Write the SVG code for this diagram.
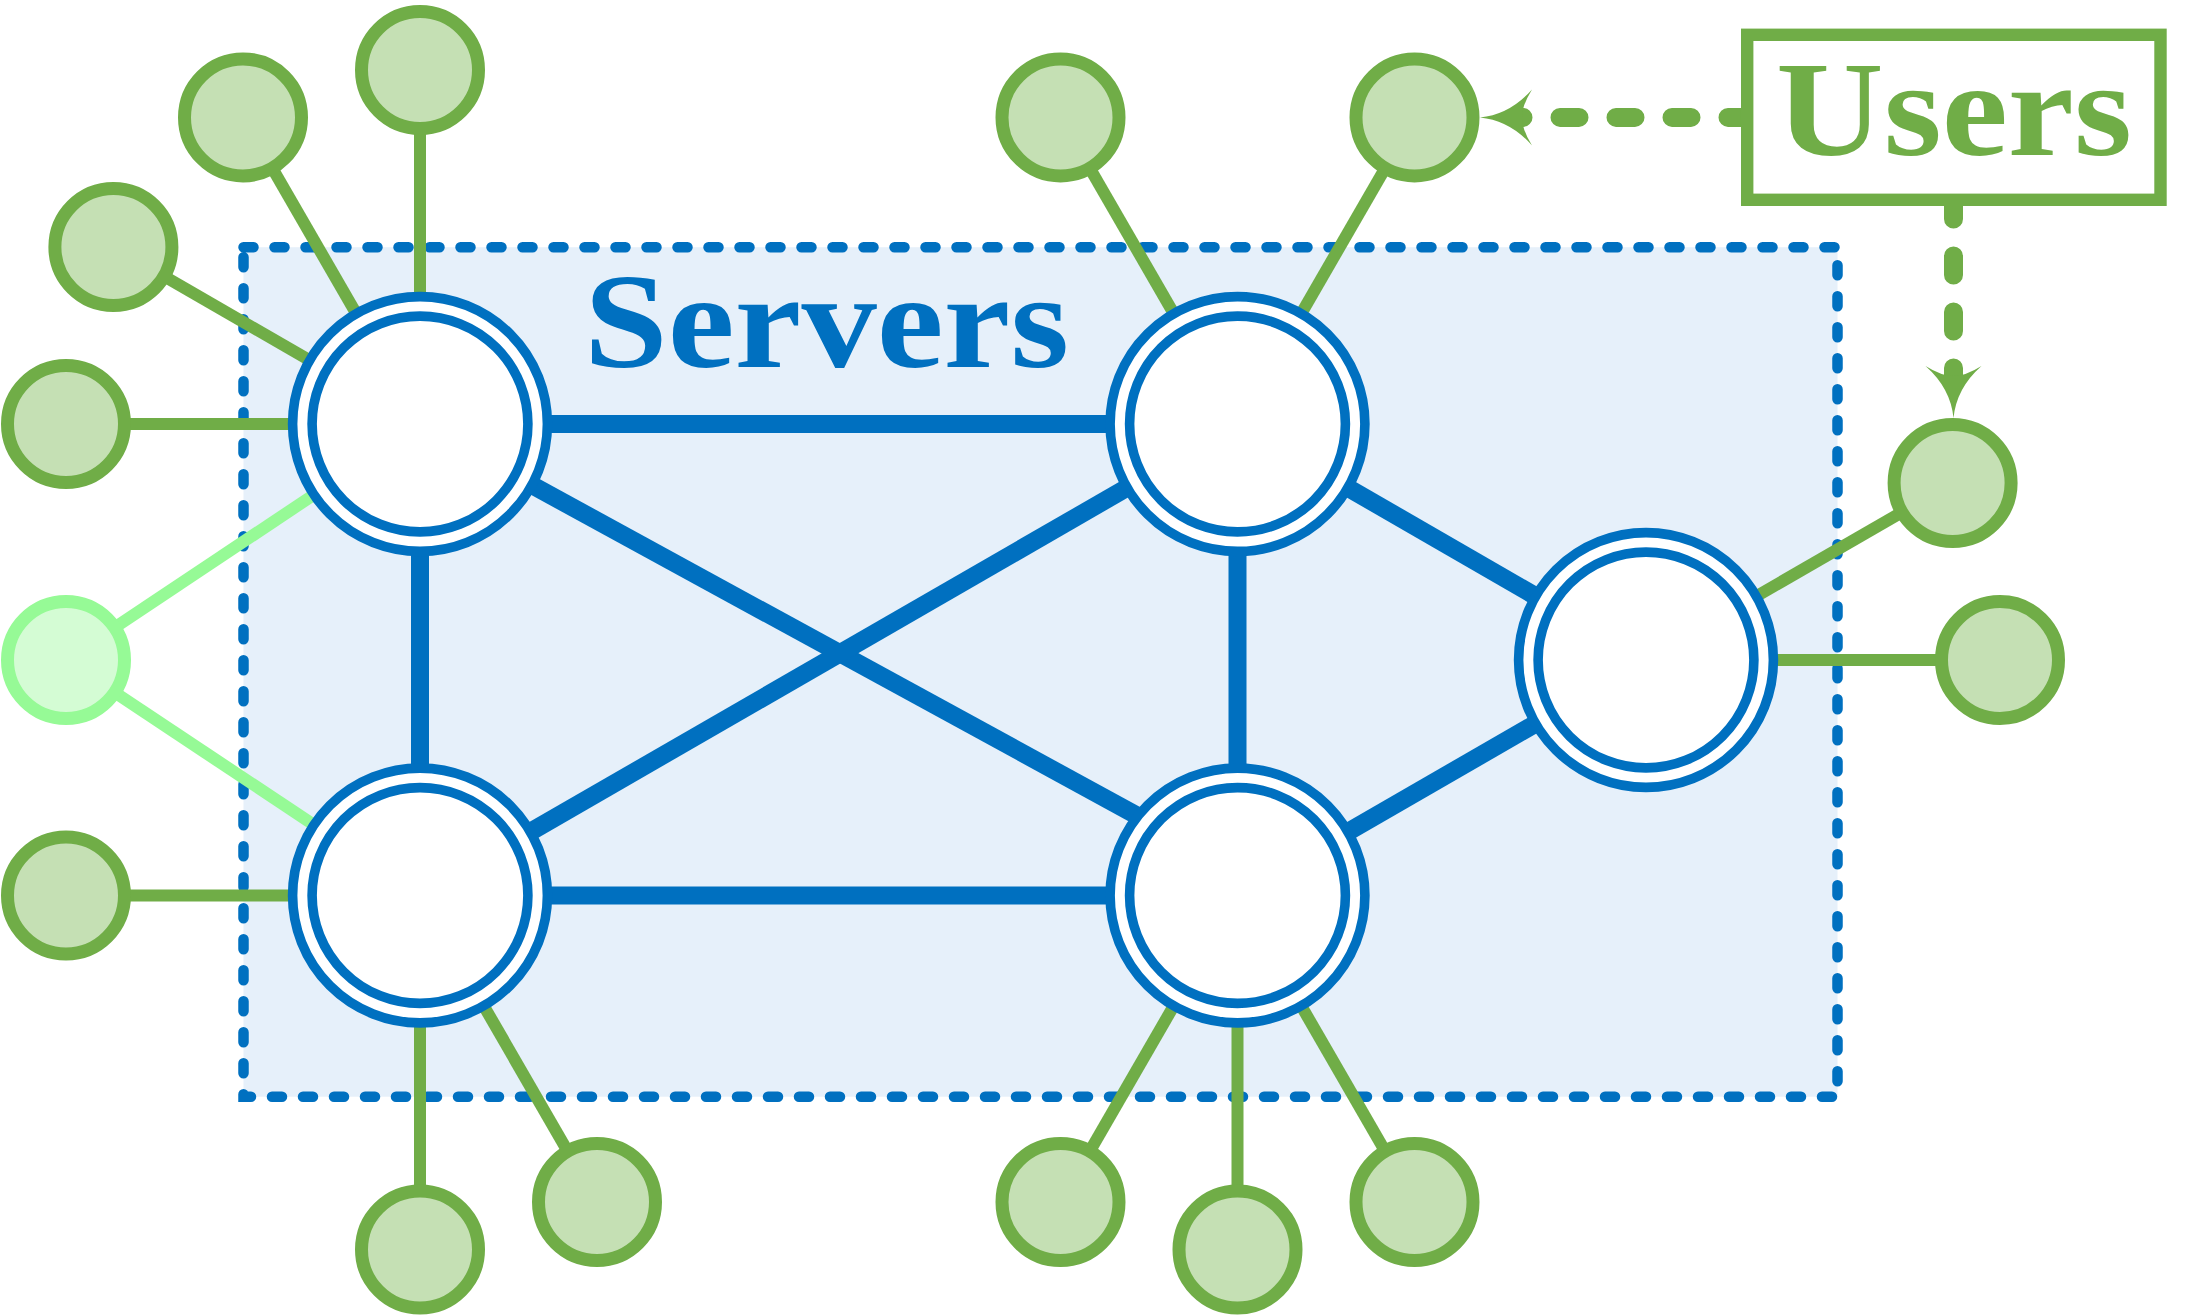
<svg xmlns="http://www.w3.org/2000/svg" width="2200" height="1316" viewBox="0 0 2200 1316">
<style>
.box{fill:#E6F0FA;stroke:#0070C0;stroke-width:10.5;stroke-dasharray:10 21;stroke-linecap:round}
.spoke{stroke:#70AD47;stroke-width:12;fill:none}
.spoke2{stroke:#96FA96;stroke-width:12;fill:none}
.edge{stroke:#0070C0;stroke-width:18;fill:none}
.ring{fill:#FFFFFF;stroke:#0070C0;stroke-width:9.6}
.user{fill:#C5E0B4;stroke:#70AD47;stroke-width:13}
.user2{fill:#D4FCD4;stroke:#96FA96;stroke-width:13}
.dash{stroke:#70AD47;stroke-width:19;stroke-dasharray:19 37;stroke-linecap:round;fill:none}
.lbl{font-family:"Liberation Serif","Times New Roman",serif;font-weight:bold;font-size:136px;text-anchor:middle}
</style>
<defs>
<marker id="arr" markerUnits="userSpaceOnUse" markerWidth="60" markerHeight="60" viewBox="0 -30 60 60" refX="10" refY="0" orient="auto" overflow="visible">
<path d="M52,0 Q22,-3 0,-28 Q10,-12 10,0 Q10,12 0,28 Q22,3 52,0 Z" fill="#70AD47"/>
</marker>
</defs>

<g id="servers-area">
<rect class="box" x="243.5" y="247.2" width="1594" height="849.5"/>
<text class="lbl" x="826.5" y="367" fill="#0070C0" textLength="485" lengthAdjust="spacingAndGlyphs">Servers</text>
</g>

<g id="connectors">
<line class="spoke" x1="420" y1="424" x2="420" y2="70"/>
<line class="spoke" x1="420" y1="424" x2="243" y2="117.4"/>
<line class="spoke" x1="420" y1="424" x2="113.4" y2="247"/>
<line class="spoke" x1="420" y1="424" x2="66" y2="424"/>
<line class="spoke2" x1="420" y1="424" x2="66" y2="660"/>
<line class="spoke2" x1="420" y1="895.5" x2="66" y2="660"/>
<line class="spoke" x1="420" y1="895.5" x2="66" y2="895.5"/>
<line class="spoke" x1="420" y1="895.5" x2="420" y2="1249.5"/>
<line class="spoke" x1="420" y1="895.5" x2="597" y2="1202"/>
<line class="spoke" x1="1237.5" y1="424" x2="1060.5" y2="117.4"/>
<line class="spoke" x1="1237.5" y1="424" x2="1414.5" y2="117.4"/>
<line class="spoke" x1="1237.5" y1="895.5" x2="1060.5" y2="1202"/>
<line class="spoke" x1="1237.5" y1="895.5" x2="1237.5" y2="1249.5"/>
<line class="spoke" x1="1237.5" y1="895.5" x2="1414.5" y2="1202"/>
<line class="spoke" x1="1646" y1="660" x2="1952.6" y2="483"/>
<line class="spoke" x1="1646" y1="660" x2="2000" y2="660"/>

<line class="edge" x1="420" y1="424" x2="1237.5" y2="424"/>
<line class="edge" x1="420" y1="895.5" x2="1237.5" y2="895.5"/>
<line class="edge" x1="420" y1="424" x2="420" y2="895.5"/>
<line class="edge" x1="1237.5" y1="424" x2="1237.5" y2="895.5"/>
<line class="edge" x1="420" y1="424" x2="1237.5" y2="870.5"/>
<line class="edge" x1="1237.5" y1="424" x2="420" y2="895.5"/>
<line class="edge" x1="1237.5" y1="424" x2="1646" y2="660"/>
<line class="edge" x1="1237.5" y1="895.5" x2="1646" y2="660"/>

<path class="dash" d="M1747,117.4 H1522" marker-end="url(#arr)"/>
<path class="dash" d="M1953.5,200 V376" marker-end="url(#arr)"/>
</g>

<g id="server1"><circle class="ring" cx="420" cy="424" r="127.4"/><circle class="ring" cx="420" cy="424" r="107.9"/></g>
<g id="server2"><circle class="ring" cx="1237.5" cy="424" r="127.4"/><circle class="ring" cx="1237.5" cy="424" r="107.9"/></g>
<g id="server3"><circle class="ring" cx="420" cy="895.5" r="127.4"/><circle class="ring" cx="420" cy="895.5" r="107.9"/></g>
<g id="server4"><circle class="ring" cx="1237.5" cy="895.5" r="127.4"/><circle class="ring" cx="1237.5" cy="895.5" r="107.9"/></g>
<g id="server5"><circle class="ring" cx="1646" cy="660" r="127.4"/><circle class="ring" cx="1646" cy="660" r="107.9"/></g>

<g id="user1"><circle class="user" cx="420" cy="70" r="58.5"/></g>
<g id="user2"><circle class="user" cx="243" cy="117.4" r="58.5"/></g>
<g id="user3"><circle class="user" cx="113.4" cy="247" r="58.5"/></g>
<g id="user4"><circle class="user" cx="66" cy="424" r="58.5"/></g>
<g id="user5"><circle class="user2" cx="66" cy="660" r="58.5"/></g>
<g id="user6"><circle class="user" cx="66" cy="895.5" r="58.5"/></g>
<g id="user7"><circle class="user" cx="420" cy="1249.5" r="58.5"/></g>
<g id="user8"><circle class="user" cx="597" cy="1202" r="58.5"/></g>
<g id="user9"><circle class="user" cx="1060.5" cy="117.4" r="58.5"/></g>
<g id="user10"><circle class="user" cx="1414.5" cy="117.4" r="58.5"/></g>
<g id="user11"><circle class="user" cx="1060.5" cy="1202" r="58.5"/></g>
<g id="user12"><circle class="user" cx="1237.5" cy="1249.5" r="58.5"/></g>
<g id="user13"><circle class="user" cx="1414.5" cy="1202" r="58.5"/></g>
<g id="user14"><circle class="user" cx="1952.6" cy="483" r="58.5"/></g>
<g id="user15"><circle class="user" cx="2000" cy="660" r="58.5"/></g>

<g id="users-label">
<rect x="1747.2" y="34.8" width="413.3" height="165" fill="#FFFFFF" stroke="#70AD47" stroke-width="12.4"/>
<text class="lbl" x="1954" y="155" fill="#70AD47" textLength="356" lengthAdjust="spacingAndGlyphs">Users</text>
</g>
</svg>
